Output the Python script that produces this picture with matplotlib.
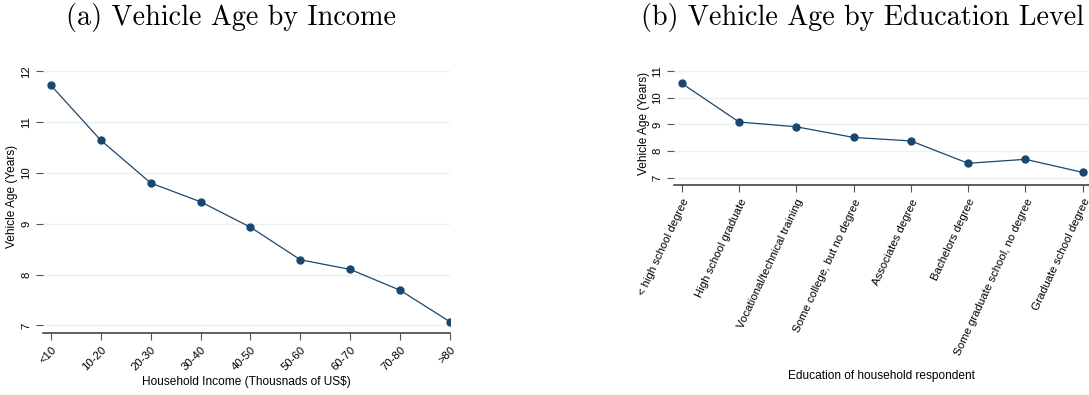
import matplotlib.pyplot as plt

# (a) income
income_labels = ["<10", "10-20", "20-30", "30-40", "40-50", "50-60", "60-70", "70-80", ">80"]
income_age = [11.72, 10.64, 9.80, 9.43, 8.93, 8.29, 8.10, 7.69, 7.07]

# (b) education
edu_labels = ["< high school degree", "High school graduate", "Vocational/technical training",
              "Some college, but no degree", "Associates degree", "Bachelors degree",
              "Some graduate school, no degree", "Graduate school degree"]
edu_age = [10.54, 9.09, 8.91, 8.51, 8.38, 7.54, 7.69, 7.20]

navy = "#1a476f"
grid_c = "#eaf2f3"
plt.rcParams['font.family'] = ['Liberation Sans', 'DejaVu Sans']

fig = plt.figure(figsize=(10.89, 3.95), dpi=100)


def style(ax, yticks):
    ax.set_yticks(yticks)
    ax.grid(axis='y', color=grid_c, linewidth=1.0)
    ax.set_axisbelow(True)
    for s in ['left', 'top', 'right']:
        ax.spines[s].set_visible(False)
    ax.spines['bottom'].set_color('#333333')
    ax.spines['bottom'].set_linewidth(1.1)
    ax.tick_params(axis='both', direction='out', length=5, color='#555555', labelsize=8.2, width=0.8)
    for lab in ax.get_yticklabels():
        lab.set_rotation(90)
        lab.set_va('center')


# left panel
ax1 = fig.add_axes([43 / 1089, 1 - 332.7 / 395, (450 - 43) / 1089, (332.7 - 60) / 395])
x1 = range(len(income_labels))
ax1.plot(x1, income_age, color=navy, linewidth=0.9, marker='o', markersize=5)
ax1.set_xlim(-0.16, 8.0)
ax1.set_ylim(6.855, 12.22)
style(ax1, [7, 8, 9, 10, 11, 12])
ax1.set_xticks(list(x1))
ax1.set_xticklabels(income_labels, rotation=45, ha='right', rotation_mode='anchor')
ax1.set_ylabel("Vehicle Age (Years)", fontsize=8.6, labelpad=2)
ax1.set_xlabel("Household Income (Thousnads of US$)", fontsize=8.6, labelpad=3)

# right panel
ax2 = fig.add_axes([674.3 / 1089, 1 - 185.3 / 395, 1 - 674.3 / 1089, (185.3 - 62) / 395])
x2 = range(len(edu_labels))
ax2.plot(x2, edu_age, color=navy, linewidth=0.9, marker='o', markersize=5)
ax2.set_xlim(-0.13, 7.11)
ax2.set_ylim(6.715, 11.34)
style(ax2, [7, 8, 9, 10, 11])
ax2.set_xticks(list(x2))
ax2.set_xticklabels(edu_labels, rotation=65, ha='right', rotation_mode='anchor')
ax2.set_ylabel("Vehicle Age (Years)", fontsize=8.6, labelpad=2)
ax2.set_xlabel("Education of household respondent", fontsize=8.6, labelpad=9)

fig.text(231.5 / 1089, 1 - 17 / 395, "(a) Vehicle Age by Income", family='cmr10',
         fontsize=20.3, ha='center', va='center')
fig.text(863 / 1089, 1 - 17 / 395, "(b) Vehicle Age by Education Level", family='cmr10',
         fontsize=20.3, ha='center', va='center')

fig.savefig("out.png", dpi=100)
